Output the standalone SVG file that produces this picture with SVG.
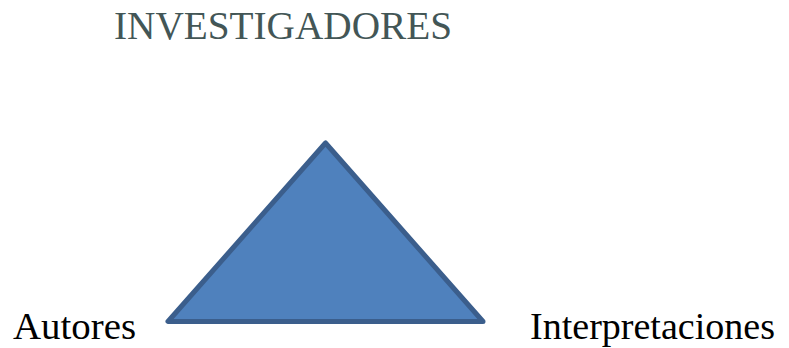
<svg xmlns="http://www.w3.org/2000/svg" width="789" height="348" viewBox="0 0 789 348">
<style>
.lbl{font-family:"Liberation Serif","Times New Roman",serif;font-size:38px;fill:#000}
.title{fill:#435656;font-size:39px}
.tri{fill:#4f81bd;stroke:#3b5e8c;stroke-width:5;stroke-linejoin:round}
</style>
<rect width="789" height="348" fill="#fff"/>
<g id="title"><text class="lbl title" x="114" y="39" textLength="338" lengthAdjust="spacingAndGlyphs">INVESTIGADORES</text></g>
<g id="triangle"><polygon class="tri" points="325.5,143 168,321.5 483,321.5"/></g>
<g id="autores"><text class="lbl" x="13" y="339" textLength="123" lengthAdjust="spacingAndGlyphs">Autores</text></g>
<g id="interpretaciones"><text class="lbl" x="530" y="339" textLength="245" lengthAdjust="spacingAndGlyphs">Interpretaciones</text></g>
<g id="connectors"></g>
</svg>
